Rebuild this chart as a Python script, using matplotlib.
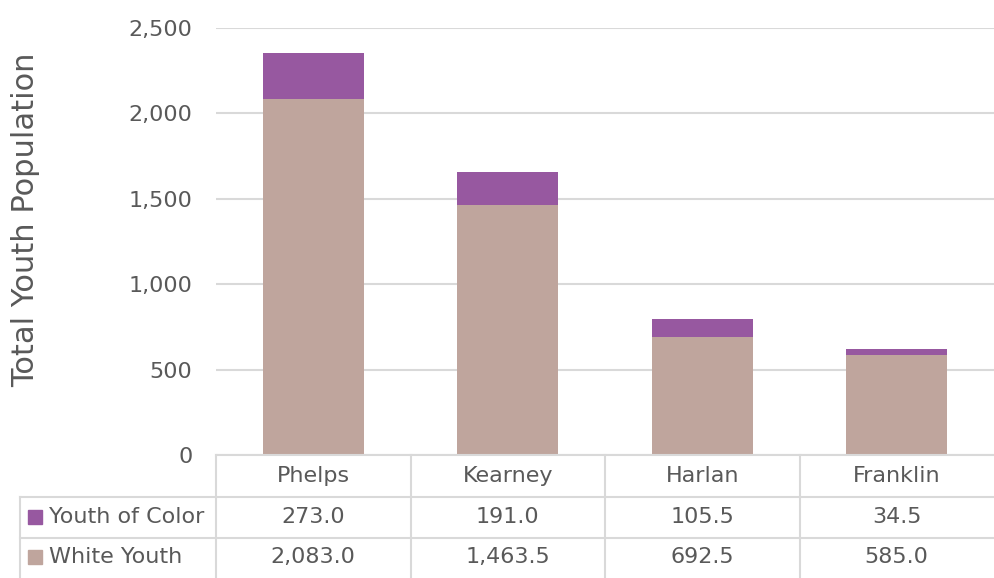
import matplotlib
matplotlib.use("Agg")
import matplotlib.pyplot as plt
import matplotlib.transforms as mtransforms
from matplotlib.lines import Line2D
from matplotlib.patches import Rectangle

# ── Data ──────────────────────────────────────────────────────────────────────
COUNTIES       = ["Phelps", "Kearney", "Harlan", "Franklin"]
YOUTH_OF_COLOR = [273.0, 191.0, 105.5, 34.5]
WHITE_YOUTH    = [2083.0, 1463.5, 692.5, 585.0]
SERIES_NAMES   = ["Youth of Color", "White Youth"]
Y_TICKS        = [0, 500, 1000, 1500, 2000, 2500]

PURPLE = "#9758a0"
TAN    = "#bfa59d"
GRID   = "#d9d9d9"
TEXT   = "#595959"
FS     = 16

plt.rcParams["font.family"] = ["DejaVu Sans"]

W, H = 994, 578
fig = plt.figure(figsize=(W / 100, H / 100), dpi=100)
ax = fig.add_axes([216 / W, 1 - 455 / H, (W - 216) / W, (455 - 28) / H])

x = range(len(COUNTIES))
ax.bar(x, WHITE_YOUTH, width=0.52, color=TAN, zorder=3)
ax.bar(x, YOUTH_OF_COLOR, width=0.52, bottom=WHITE_YOUTH, color=PURPLE, zorder=3)

ax.set_xlim(-0.5, len(COUNTIES) - 0.5)
ax.set_ylim(0, 2500)
ax.set_yticks(Y_TICKS)
ax.set_yticklabels([f"{v:,}" for v in Y_TICKS])
ax.tick_params(axis="y", length=0, pad=17, labelsize=FS, labelcolor=TEXT)
ax.set_xticks([])
ax.grid(axis="y", color=GRID, linewidth=1.5, zorder=0)
for s in ax.spines.values():
    s.set_visible(False)

fig.text(26 / W, 1 - 220 / H, "Total Youth Population", rotation=90,
         ha="center", va="center", fontsize=22, color=TEXT)

# ── Data table below the plot ─────────────────────────────────────────────────
blend = mtransforms.blended_transform_factory(ax.transData, fig.transFigure)

def fy(py):
    return 1 - py / H

lw = 1.5
fig.add_artist(Line2D([216 / W, 1], [fy(455), fy(455)], color=GRID, lw=lw))
for py in [497, 538]:
    fig.add_artist(Line2D([20 / W, 1], [fy(py), fy(py)], color=GRID, lw=lw))
fig.add_artist(Line2D([20 / W, 20 / W], [fy(497), 0], color=GRID, lw=lw))
for i in range(len(COUNTIES)):
    xb = i - 0.5
    fig.add_artist(Line2D([xb, xb], [fy(455), 0], color=GRID, lw=lw,
                          transform=blend))

header_y = fy(476)
row_y = [fy(517), fy(557)]
for i, name in enumerate(COUNTIES):
    fig.text(i, header_y, name, transform=blend, ha="center", va="center",
             fontsize=FS, color=TEXT)
    fig.text(i, row_y[0], f"{YOUTH_OF_COLOR[i]:,.1f}", transform=blend,
             ha="center", va="center", fontsize=FS, color=TEXT)
    fig.text(i, row_y[1], f"{WHITE_YOUTH[i]:,.1f}", transform=blend,
             ha="center", va="center", fontsize=FS, color=TEXT)

for ry, name, col in zip(row_y, SERIES_NAMES, [PURPLE, TAN]):
    fig.add_artist(Rectangle((28 / W, ry - 7 / H), 14 / W, 14 / H,
                             transform=fig.transFigure, color=col))
    fig.text(49 / W, ry, name, ha="left", va="center", fontsize=FS, color=TEXT)

fig.savefig("out.png", dpi=100)
